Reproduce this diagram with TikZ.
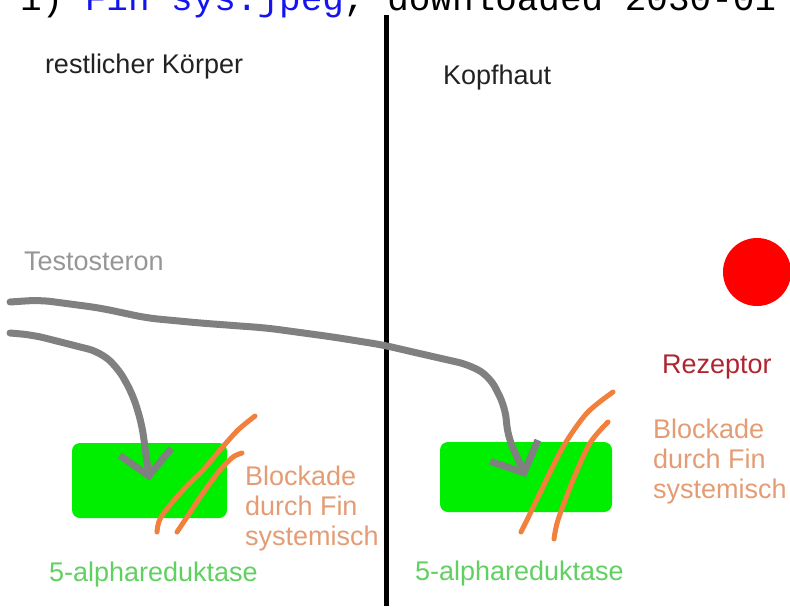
\documentclass[tikz,border=0pt]{standalone}
\usepackage{fontspec}
\setmainfont{Liberation Sans}
\newfontfamily\capfont{Liberation Mono}
\usetikzlibrary{positioning,arrows.meta}
\definecolor{enzgreen}{RGB}{0,238,0}
\definecolor{hormgray}{RGB}{128,128,128}
\definecolor{textgray}{RGB}{150,150,150}
\definecolor{headtext}{RGB}{34,34,34}
\definecolor{blockorange}{RGB}{240,128,60}
\definecolor{blocktext}{RGB}{228,156,116}
\definecolor{rezred}{RGB}{176,36,48}
\definecolor{enztext}{RGB}{96,208,96}
\definecolor{linkblue}{RGB}{20,20,240}

\begin{document}
\begin{tikzpicture}
            [x=1pt, y=-1pt, font=\fontsize{27}{30}\selectfont,
            every node/.style={inner sep=0pt, outer sep=0pt},
            lbl/.style={align=left, anchor=base west},
            enzyme/.style={fill=enzgreen, rounded corners=8pt},
            hormone/.style={draw=hormgray, line width=7pt, rounded corners=12pt,
            line cap=round, line join=round,
            -{Straight Barb[length=24pt,width=52pt]}},
            blocker/.style={draw=blockorange, line width=5pt, line cap=round}]
            \useasboundingbox (0,0) rectangle (790,606);
            % caption line, cut off by the page
            \node[anchor=base west, font=\capfont\fontsize{36}{40}\selectfont] (caption) at (20,10)
                {1) \textcolor{linkblue}{Fin sys.jpeg}, downloaded 2030-01};
            % divider
            \coordinate (divtop) at (386,15);
            \coordinate (divbot) at (386,606);
            \draw[line width=5pt] (divtop) -- (divbot);
            % headings
            \node[lbl, text=headtext] (body) at (45,73) {restlicher Körper};
            \node[lbl, text=headtext] (scalp) at (443,84) {Kopfhaut};
            \node[lbl, text=textgray] (testo) at (24,270) {Testosteron};
            % receptor
            \node[circle, fill=red, minimum size=68pt] (rez) at (757,272) {};
            \node[lbl, text=rezred] (rezlbl) at (662,373) {Rezeptor};
            % enzymes
            \node[enzyme, minimum width=155pt, minimum height=75pt] (enzL) at (149.5,480.5) {};
            \node[enzyme, minimum width=172pt, minimum height=70pt] (enzR) at (526,477) {};
            \node[lbl, text=enztext] (enzLlbl) at (49,581) {5-alphareduktase};
            \node[lbl, text=enztext] (enzRlbl) at (415,580) {5-alphareduktase};
            % testosterone paths
            \coordinate (inL) at (10,333);
            \coordinate (inR) at (10,302);
            \draw[hormone] (inL) -- (33,335) -- (100,352) -- (118,368) -- (133,395)
                -- (142,425) -- (146,455) -- (enzL.center);
            \draw[hormone] (inR) -- (40,300) -- (100,308) -- (147,318) -- (200,323)
                -- (267,328) -- (333,337) -- (383,345) -- (413,352) -- (470,365)
                -- (490,377) -- (505,407) -- (508,437) -- (enzR.center);
            % blockade strokes
            \draw[blocker] plot[smooth] coordinates {(157,532) (161,517) (183,490) (203,470) (220,450) (238,430) (255,416)};
            \draw[blocker] plot[smooth] coordinates {(177,532) (187,517) (203,493) (220,470) (233,457) (242,453)};
            \draw[blocker] plot[smooth] coordinates {(521,532) (527,520) (540,493) (563,447) (587,413) (613,392)};
            \draw[blocker] plot[smooth] coordinates {(554,539) (558,520) (573,480) (590,443) (608,422)};
            \node[lbl, text=blocktext] (blockL) at (245,545) {Blockade\\durch Fin\\systemisch};
            \node[lbl, text=blocktext] (blockR) at (653,498) {Blockade\\durch Fin\\systemisch};
\end{tikzpicture}
\end{document}
